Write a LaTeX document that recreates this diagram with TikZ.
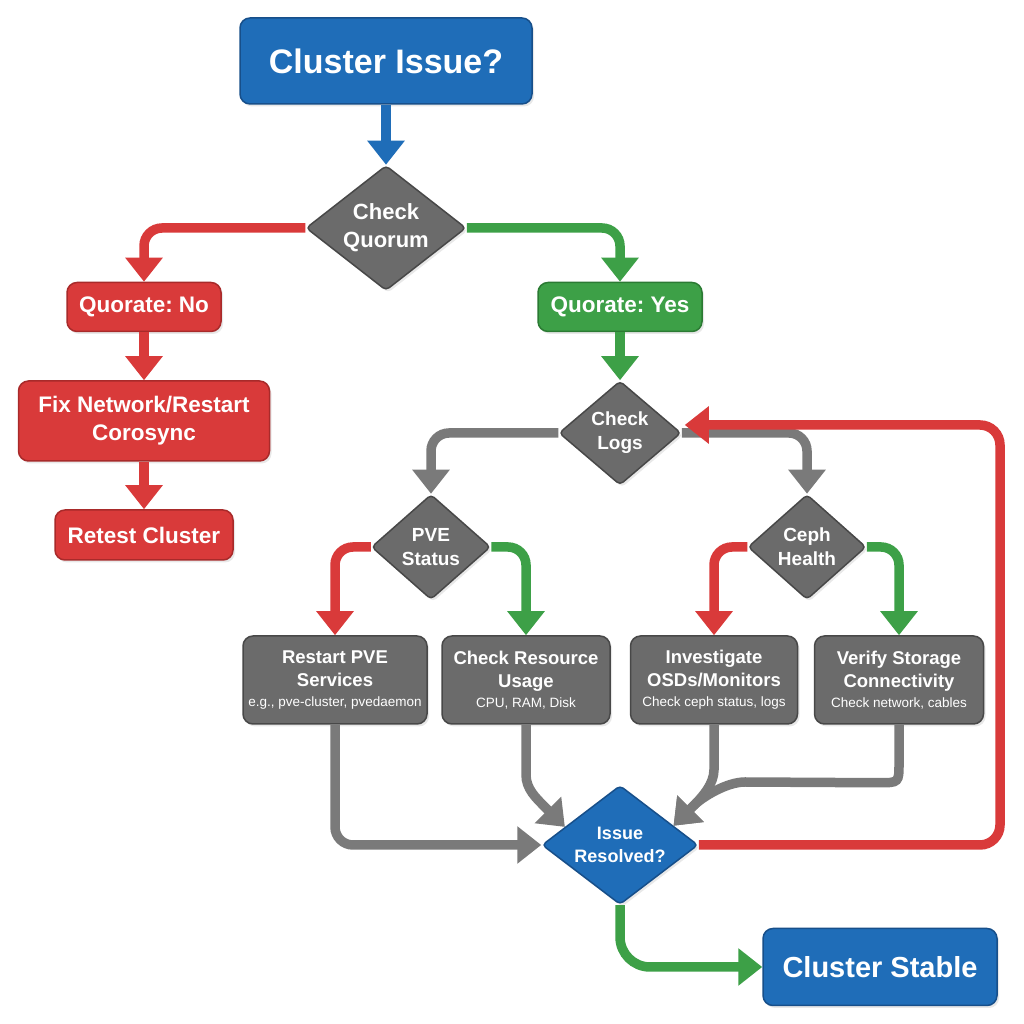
\documentclass[tikz,border=0pt]{standalone}
\usepackage{fontspec}
\setmainfont{Liberation Sans}
\usetikzlibrary{shapes.geometric,arrows.meta,calc,shadows}
\definecolor{cblue}{HTML}{1F6DB8}
\definecolor{cblueD}{HTML}{174F8A}
\definecolor{cred}{HTML}{D93A3A}
\definecolor{credD}{HTML}{A82A2A}
\definecolor{cgreen}{HTML}{3DA047}
\definecolor{cgreenD}{HTML}{2B7A33}
\definecolor{cgrey}{HTML}{6B6B6B}
\definecolor{cgreyD}{HTML}{484848}
\definecolor{cline}{HTML}{7A7A7A}
\newcommand\subtxt{\mdseries\fontsize{13.5}{16}\selectfont}
\tikzset{
  shad/.style={drop shadow={opacity=0.18, shadow xshift=2pt, shadow yshift=-2.5pt}},
  box/.style={rectangle, rounded corners=10pt, draw, line width=1.5pt, text=white, align=center, inner sep=0pt, shad},
  dia/.style={diamond, aspect=1.3, draw, line width=1.5pt, rounded corners=4pt, text=white, align=center, inner sep=0pt, shad},
  bluebox/.style={box, fill=cblue, draw=cblueD},
  redbox/.style={box, fill=cred, draw=credD, font=\bfseries\fontsize{22.5}{28}\selectfont},
  greenbox/.style={box, fill=cgreen, draw=cgreenD, font=\bfseries\fontsize{22.5}{28}\selectfont},
  greybox/.style={box, fill=cgrey, draw=cgreyD, font=\bfseries\fontsize{18.5}{23}\selectfont},
  greydia/.style={dia, fill=cgrey, draw=cgreyD, font=\bfseries\fontsize{19}{24}\selectfont},
  bluedia/.style={dia, fill=cblue, draw=cblueD, font=\bfseries\fontsize{18}{23}\selectfont},
  conn/.style={line width=9.5pt, rounded corners=18pt, -{Triangle[length=24pt,width=36pt]}},
  bluec/.style={conn, draw=cblue},
  redc/.style={conn, draw=cred},
  greenc/.style={conn, draw=cgreen},
  greyc/.style={conn, draw=cline},
}
\frenchspacing
\begin{document}
\begin{tikzpicture}[x=1pt,y=1pt]
\useasboundingbox[fill=white] (0,0) rectangle (1024,1024);

% nodes
\node[bluebox, minimum width=292pt, minimum height=86pt, font=\bfseries\fontsize{34}{40}\selectfont] (ci) at (386,963) {Cluster Issue?};
\node[greydia, minimum width=160pt, minimum height=125pt, font=\bfseries\fontsize{22}{28}\selectfont] (cq) at (386,796) {Check\\Quorum};
\node[redbox, minimum width=154pt, minimum height=49pt] (qn) at (144,717) {Quorate: No};
\node[redbox, minimum width=251pt, minimum height=80pt] (fix) at (144,603) {Fix Network/Restart\\Corosync};
\node[redbox, minimum width=178pt, minimum height=50pt] (rt) at (144,489) {Retest Cluster};
\node[greenbox, minimum width=164pt, minimum height=49pt] (qy) at (620,717) {Quorate: Yes};
\node[greydia, minimum width=122pt, minimum height=104pt] (cl) at (620,591) {Check\\Logs};
\node[greydia, minimum width=119pt, minimum height=105pt] (pve) at (431,477) {PVE\\Status};
\node[greydia, minimum width=118pt, minimum height=105pt] (ceph) at (807,477) {Ceph\\Health};
\node[greybox, minimum width=184pt, minimum height=88pt] (rp) at (335,344) {Restart PVE\\Services\\[-3pt]{\subtxt e.g., pve-cluster, pvedaemon}};
\node[greybox, minimum width=168pt, minimum height=88pt] (cr) at (526,344) {Check Resource\\Usage\\[-3pt]{\subtxt CPU, RAM, Disk}};
\node[greybox, minimum width=167pt, minimum height=88pt] (inv) at (714,344) {Investigate\\OSDs/Monitors\\[-3pt]{\subtxt Check ceph status, logs}};
\node[greybox, minimum width=169pt, minimum height=88pt] (vs) at (899,344) {Verify Storage\\Connectivity\\[-3pt]{\subtxt Check network, cables}};
\node[bluedia, minimum width=156pt, minimum height=119pt] (ir) at (620,179) {Issue\\Resolved?};
\node[bluebox, minimum width=234pt, minimum height=77pt, font=\bfseries\fontsize{29}{34}\selectfont] (cs) at (880,57) {Cluster Stable};

% helper coordinates
\coordinate (ta) at ($(ir.west)!0.3!(ir.north)$);
\coordinate (tb) at ($(ir.east)!0.32!(ir.north)$);
\coordinate (tl) at ($(cl.east)+(3,8)$);
\coordinate (ba) at ($(ta)+(-20,20)$);
\coordinate (bb) at ($(tb)+(20,20)$);

% connectors
\draw[bluec] (ci.south) -- (cq.north);
\draw[redc] (cq.west) -| (qn.north);
\draw[greenc] (cq.east) -| (qy.north);
\draw[redc] (qn.south) -- (fix.north);
\draw[redc] (fix.south) -- (rt.north);
\draw[greenc] (qy.south) -- (cl.north);
\draw[greyc] (cl.west) -| (pve.north);
\draw[greyc] (cl.east) -| (ceph.north);
\draw[redc] (pve.west) -| (rp.north);
\draw[greenc] (pve.east) -| (cr.north);
\draw[redc] (ceph.west) -| (inv.north);
\draw[greenc] (ceph.east) -| (vs.north);
\draw[greyc] (rp.south) |- (ir.west);
\draw[greyc, sharp corners] (cr.south) -- ++(0,-50) .. controls ++(0,-14) and ($(ba)+(-9,9)$) .. (ba) -- (ta);
\draw[greyc, sharp corners] (vs.south) -- ++(0,-38) .. controls ++(0,-20) and ++(20,0) .. ++(-20,-20) -- (745,242) .. controls (727,242) and ($(bb)+(9,9)$) .. (bb) -- (tb);
\draw[greyc, sharp corners] (inv.south) -- ++(0,-45) .. controls ++(0,-14) and ($(bb)+(9,9)$) .. (bb) -- (tb);
\draw[redc, rounded corners=20pt] (ir.east) -- (1000,179) -- (1000,599) -- (tl);
\draw[greenc, rounded corners=30pt] (ir.south) |- (cs.west);
\end{tikzpicture}
\end{document}
